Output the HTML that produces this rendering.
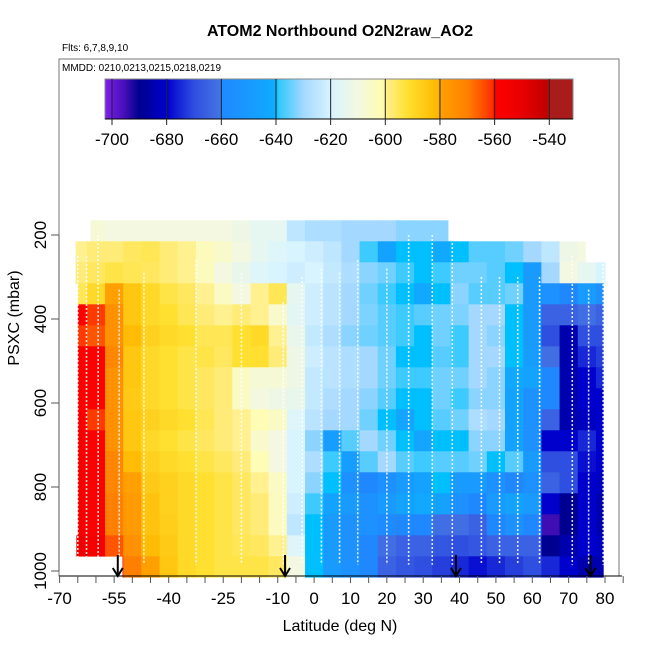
<!DOCTYPE html>
<html><head><meta charset="utf-8"><style>
body{margin:0;background:#fff;}
svg{display:block;font-family:"Liberation Sans",sans-serif;}
</style></head><body>
<svg id="chart" width="650" height="650" viewBox="0 0 650 650" xmlns="http://www.w3.org/2000/svg">
<defs><linearGradient id="cbgrad" x1="0" x2="1" y1="0" y2="0"></linearGradient></defs>
<text x="340" y="36" text-anchor="middle" font-size="16" font-weight="bold">ATOM2 Northbound O2N2raw_AO2</text>
<text x="62" y="51" font-size="10">Flts: 6,7,8,9,10</text>
<rect x="59" y="59" width="560" height="517" fill="none" stroke="#777" stroke-width="1"/>
<text x="62" y="71" font-size="10">MMDD: 0210,0213,0215,0218,0219</text>
<g id="heat"></g>
<g id="tracks"></g>
<g id="arrows"></g>
<g id="cbar"></g>
<g id="xaxis"></g>
<g id="yaxis"></g>
<text x="340" y="631" text-anchor="middle" font-size="16">Latitude (deg N)</text>
<text transform="translate(19,318) rotate(-90)" text-anchor="middle" font-size="16">PSXC (mbar)</text>
</svg>
<script>
const latCenters=[-65,-60,-55,-50,-45,-40,-35,-30,-25,-20,-15,-10,-5,0,5,10,15,20,25,30,35,40,45,50,55,60,65,70,75,80];
const presCenters=[190,240,290,340,390,440,490,540,590,640,690,740,790,840,890,940,990];
const rowLatMin=[-61.5,-65.6,-65.6,-65,-65,-65,-65,-65,-65,-65,-65,-65,-65,-65,-65,-65.4,-52.7];
const rowLatMax=[36.8,74.6,80,79.5,79.5,79.5,79.5,79.5,79.5,79.5,79.5,79.5,79.5,79.5,79.5,79.5,79.5];
const values=[
[-605,-608,-610,-610,-610,-610,-610,-610,-610,-612,-615,-615,-625,-628,-628,-630,-630,-630,-632,-632,-632,-632,null,null,null,null,null,null,null,null],
[-600,-598,-598,-596,-595,-598,-600,-603,-606,-610,-615,-618,-620,-622,-625,-630,-638,-645,-640,-640,-642,-640,-636,-636,-634,-630,-625,-612,-610,null],
[-598,-596,-594,-595,-596,-598,-600,-604,-610,-614,-618,-620,-622,-620,-624,-628,-632,-634,-638,-640,-638,-634,-634,-636,-640,-650,-630,-610,-615,-620],
[-595,-590,-580,-585,-590,-594,-596,-600,-605,-610,-600,-595,-615,-622,-626,-630,-634,-638,-640,-642,-640,-632,-636,-636,-634,-650,-655,-660,-650,-655],
[-560,-562,-575,-585,-590,-592,-595,-598,-600,-598,-600,-606,-616,-622,-626,-630,-633,-636,-638,-636,-634,-633,-630,-630,-640,-650,-665,-665,-662,-665],
[-562,-565,-575,-582,-588,-590,-592,-595,-595,-592,-590,-600,-614,-624,-628,-632,-634,-636,-638,-640,-634,-638,-630,-632,-640,-650,-670,-685,-670,-670],
[-558,-560,-572,-585,-590,-592,-594,-594,-596,-592,-592,-598,-612,-622,-626,-628,-630,-634,-640,-640,-636,-638,-630,-630,-640,-648,-662,-685,-675,-672],
[-557,-560,-575,-585,-590,-592,-594,-596,-598,-605,-608,-608,-612,-624,-626,-628,-630,-634,-638,-638,-634,-634,-630,-632,-642,-645,-660,-685,-680,-675],
[-557,-560,-575,-586,-590,-592,-594,-596,-598,-605,-610,-612,-614,-624,-628,-630,-632,-636,-640,-640,-634,-638,-632,-632,-645,-655,-660,-685,-680,-680],
[-557,-562,-575,-585,-588,-590,-592,-595,-598,-600,-602,-605,-618,-626,-630,-630,-634,-640,-644,-640,-636,-634,-628,-630,-645,-655,-665,-685,-682,-680],
[-555,-560,-575,-585,-590,-592,-594,-596,-598,-600,-606,-610,-620,-632,-648,-636,-630,-634,-640,-644,-640,-640,-632,-632,-646,-655,-680,-680,-675,-680],
[-555,-558,-572,-582,-588,-590,-592,-594,-596,-598,-602,-610,-620,-628,-638,-648,-636,-630,-636,-638,-636,-636,-634,-640,-636,-650,-670,-670,-678,-680],
[-555,-558,-572,-580,-586,-588,-590,-592,-594,-596,-600,-605,-620,-632,-640,-655,-660,-655,-650,-645,-640,-650,-650,-655,-660,-655,-665,-670,-680,-682],
[-555,-558,-570,-578,-584,-588,-590,-592,-594,-596,-598,-604,-622,-638,-645,-650,-655,-650,-645,-642,-645,-655,-660,-650,-645,-650,-680,-690,-680,-685],
[-555,-558,-570,-578,-584,-587,-590,-592,-594,-596,-598,-604,-625,-640,-650,-655,-655,-658,-660,-660,-662,-662,-665,-660,-655,-660,-695,-690,-680,-685],
[-552,-556,-565,-575,-582,-586,-590,-592,-594,-595,-596,-600,-618,-640,-650,-655,-660,-662,-665,-665,-668,-670,-668,-665,-665,-665,-690,-685,-680,-682],
[null,null,-560,-570,-580,-585,-590,-592,-594,-594,-594,-596,-610,-640,-650,-655,-660,-665,-668,-670,-672,-675,-678,-675,-672,-670,-675,-680,-685,-685]
];
const profileLats=[-65,-62.6,-59.4,-53.6,-46.8,-32.5,-20,-8.5,-3.3,2,7,12,20,26,32.5,38,46,51,56,62,71,75.5,79.5];
const profileTops=[250,250,200,330,290,260,290,360,300,280,290,260,280,200,200,200,300,300,300,300,250,330,250];
const arrowLats=[-54,-8,39,76];
const xTicks=[-70,-65,-60,-55,-50,-45,-40,-35,-30,-25,-20,-15,-10,-5,0,5,10,15,20,25,30,35,40,45,50,55,60,65,70,75,80,85];
const xLabels=[-70,-55,-40,-25,-10,0,10,20,30,40,50,60,70,80];
const yTicks=[200,400,600,800,1000];
const cbTicks=[-700,-680,-660,-640,-620,-600,-580,-560,-540];
const cbStops=[[-702.6,"#7f1fef"],[-696,"#4a10bb"],[-690,"#000090"],[-680,"#0000cd"],[-670,"#2f4fe0"],[-661,"#4372e3"],[-660,"#2088ff"],[-641,"#10aaff"],[-640,"#00bfff"],[-639,"#30c8ff"],[-630,"#a4d8ff"],[-620,"#d8f4ff"],[-610,"#f4f8e0"],[-601,"#fffcb0"],[-600,"#fff090"],[-592,"#ffe030"],[-581,"#ffb800"],[-580,"#ffa000"],[-570,"#ff8000"],[-561,"#ff3000"],[-560,"#ff0000"],[-550,"#e80000"],[-541,"#c00000"],[-540,"#a81c1c"],[-531.5,"#a81c1c"]];

const NS="http://www.w3.org/2000/svg";
const xs=lat=>59.6+(lat+70)*3.636;
const ys=p=>235+(p-200)*0.42;
const cx=v=>112+(v+700)*2.733;
function mk(tag,attrs,parent){const e=document.createElementNS(NS,tag);for(const k in attrs)e.setAttribute(k,attrs[k]);parent.appendChild(e);return e;}
function hex(h){return [1,3,5].map(i=>parseInt(h.substr(i,2),16));}
function color(v){
  if(v<=cbStops[0][0])return cbStops[0][1];
  for(let i=1;i<cbStops.length;i++){if(v<=cbStops[i][0]){const a=cbStops[i-1],b=cbStops[i];const t=(v-a[0])/(b[0]-a[0]);const ca=hex(a[1]),cb=hex(b[1]);return "rgb("+ca.map((c,j)=>Math.round(c+(cb[j]-c)*t)).join(",")+")";}}
  return cbStops[cbStops.length-1][1];
}
const heat=document.getElementById('heat');
presCenters.forEach((p,r)=>{
  latCenters.forEach((lat,c)=>{
    const v=values[r][c]; if(v===null)return;
    const l0=Math.max(lat-2.5,rowLatMin[r]),l1=Math.min(lat+2.5,rowLatMax[r]); if(l1<=l0)return;
    const e=mk('rect',{x:xs(l0),y:ys(p-25),width:xs(l1)-xs(l0)+0.5,height:ys(p+25)-ys(p-25)+0.3,fill:color(v)},heat);
    
    
  });
});
const tracks=document.getElementById('tracks');
profileLats.forEach((lat,i)=>{
  const e=mk('line',{x1:xs(lat),x2:xs(lat),y1:ys(profileTops[i]),y2:ys(985),stroke:"#fff","stroke-width":1.6,"stroke-dasharray":"2 2",opacity:0.85},tracks);
  
  
});
const arrows=document.getElementById('arrows');
arrowLats.forEach(lat=>{
  const g=mk('g',{},arrows);
  
  
  const x=xs(lat);
  mk('line',{x1:x,x2:x,y1:555,y2:575,stroke:"#000","stroke-width":2},g);
  mk('polyline',{points:(x-5)+",568 "+x+",576 "+(x+5)+",568",fill:"none",stroke:"#000","stroke-width":2},g);
});
const grad=document.getElementById('cbgrad');
cbStops.forEach(s=>{mk('stop',{offset:((s[0]+702.6)/(171.1)).toFixed(4),"stop-color":s[1]},grad);});
const cbar=document.getElementById('cbar');
const cb=mk('rect',{x:105,y:79,width:468,height:40,fill:"url(#cbgrad)",stroke:"#888","stroke-width":1},cbar);


mk('line',{x1:105,x2:573,y1:119,y2:119,stroke:"#000","stroke-width":1},cbar);
cbTicks.forEach(v=>{
  const x=cx(v);
  const t=mk('line',{x1:x,x2:x,y1:79,y2:125,stroke:"#222","stroke-width":1},cbar);
  
  
  const l=mk('text',{x:x,y:145,"text-anchor":"middle","font-size":17},cbar);
  
  
  l.textContent=v;
});
const xa=document.getElementById('xaxis');
mk('line',{x1:59,x2:622,y1:576,y2:576,stroke:"#000","stroke-width":1},xa);
xTicks.forEach(v=>{
  const t=mk('line',{x1:xs(v),x2:xs(v),y1:576,y2:583,stroke:"#555","stroke-width":1},xa);
  
  
});
xLabels.forEach(v=>{
  const l=mk('text',{x:xs(v),y:604,"text-anchor":"middle","font-size":17},xa);
  
  
  l.textContent=v;
});
const ya=document.getElementById('yaxis');
mk('line',{x1:59,x2:59,y1:ys(200),y2:ys(1000),stroke:"#555","stroke-width":1},ya);
yTicks.forEach(v=>{
  const y=ys(v);
  const t=mk('line',{x1:51,x2:59,y1:y,y2:y,stroke:"#555","stroke-width":1},ya);
  
  
  const l=mk('text',{transform:"translate(46,"+y+") rotate(-90)","text-anchor":"middle","font-size":17},ya);
  
  
  l.textContent=v;
});
</script>
</body></html>
